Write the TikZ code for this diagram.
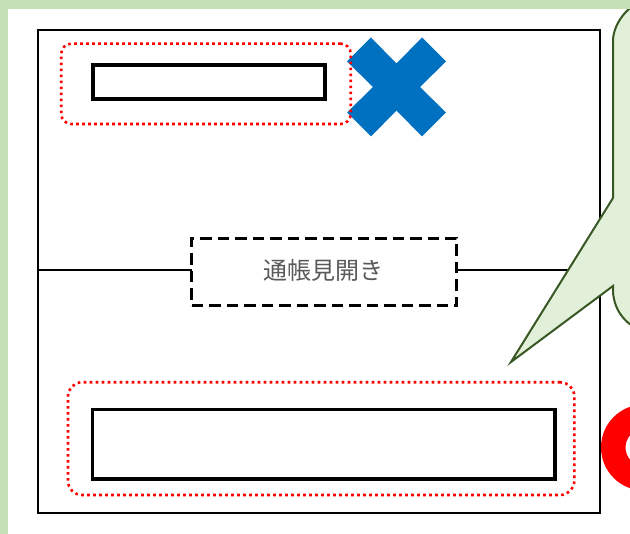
\documentclass[tikz,border=0pt]{standalone}
\usepackage{fontspec}
\newfontfamily\jp{Noto Sans CJK JP}
\definecolor{bggreen}{HTML}{C5E0B4}
\definecolor{callfill}{HTML}{E2F0D9}
\definecolor{callline}{HTML}{385723}
\definecolor{xblue}{HTML}{0070C0}
\definecolor{txtgray}{HTML}{595959}
\tikzset{
  frame/.style={draw=black, line width=2pt, inner sep=0pt, outer sep=0pt},
  thickbox/.style={draw=black, line width=3.8pt, inner sep=0pt, outer sep=0pt},
  dottedbox/.style={draw=red, line width=2.6pt, dash pattern=on 2.6pt off 3.4pt, inner sep=0pt, outer sep=0pt},
  labelbox/.style={draw=black, line width=3.2pt, dash pattern=on 11.5pt off 6pt, fill=white, inner sep=0pt, outer sep=0pt, font=\jp\fontsize{24}{24}\selectfont, text=txtgray},
  thinline/.style={draw=black, line width=2pt},
  callout/.style={fill=callfill, draw=callline, line width=2pt, line join=miter},
}
\begin{document}
\begin{tikzpicture}[x=1pt, y=-1pt]
\clip (0,0) rectangle (630,534);
\fill[white] (0,0) rectangle (630,534);
% main frame
\node[frame, minimum width=562pt, minimum height=483pt] (main) at (319,271.5) {};
% horizontal line and label box
\coordinate (hl) at (38,270);
\coordinate (hr) at (600,270);
\node[labelbox, minimum width=265pt, minimum height=67.5pt] (label) at (324.2,272) {};
\node[font=\jp\fontsize{24}{24}\selectfont, text=txtgray, inner sep=0pt] (labeltext) at (323,270) {通帳見開き};
\draw[thinline] (hl) -- (hl -| label.west);
\draw[thinline] (label.east |- hr) -- (hr);
% thick boxes
\node[thickbox, minimum width=232pt, minimum height=34.5pt] (topbox) at (209,82) {};
\node[thickbox, minimum width=462.5pt, minimum height=69.5pt] (botbox) at (323.75,444.25) {};
% blue cross
\begin{scope}[shift={(396.5,87)}]
\fill[xblue] (-25.5,-49.5) -- (0,-23.5) -- (25.5,-49.5) -- (49.5,-25.5) -- (23.5,0)
  -- (49.5,25.5) -- (25.5,49.5) -- (0,23.5) -- (-25.5,49.5) -- (-49.5,25.5)
  -- (-23.5,0) -- (-49.5,-25.5) -- cycle;
\end{scope}
% red dotted rounded boxes
\node[dottedbox, rounded corners=10pt, minimum width=289.5pt, minimum height=80.3pt] (topdots) at (206,83.85) {};
\node[dottedbox, rounded corners=14pt, minimum width=506.3pt, minimum height=112.7pt] (botdots) at (321.15,438.65) {};
% callout
\coordinate (tip) at (511,362);
\path[callout] (613,198) -- (tip) -- (613,286) -- (613,290)
  .. controls (613,313.75) and (632.25,333) .. (656,333)
  -- (700,333) -- (700,-2) -- (656,-2)
  .. controls (632.25,-2) and (613,21.75) .. (613,41) -- cycle;
% red ring
\fill[red, even odd rule] (644,447.5) circle[radius=43] (644,447.5) circle[radius=18.5];
% green frame bands
\fill[bggreen] (0,0) rectangle (630,9);
\fill[bggreen] (0,0) rectangle (8,534);
\end{tikzpicture}
\end{document}
